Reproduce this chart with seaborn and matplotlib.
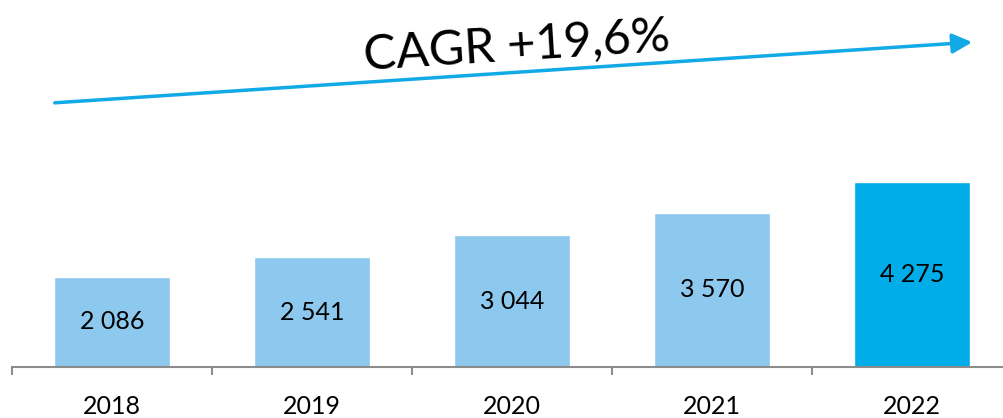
import matplotlib
matplotlib.use("Agg")
import matplotlib.pyplot as plt
import seaborn as sns
import pandas as pd

years = ["2018", "2019", "2020", "2021", "2022"]
values = [2086, 2541, 3044, 3570, 4275]
value_labels = ["2 086", "2 541", "3 044", "3 570", "4 275"]
cagr_text = "CAGR +19,6%"

sns.set_theme(style="white")
plt.rcParams['font.family'] = ['Lato', 'DejaVu Sans']

colors = ["#8DC8EE", "#8DC8EE", "#8DC8EE", "#8DC8EE", "#00ADE8"]
df = pd.DataFrame({"year": years, "value": values})

fig = plt.figure(figsize=(10.04, 4.18), dpi=100)
ax = fig.add_axes([12 / 1004, 51 / 418, 1000 / 1004, 367 / 418])
sns.barplot(data=df, x="year", y="value", hue="year", palette=colors,
            width=0.58, saturation=1, legend=False, ax=ax)

ax.set_xlim(-0.5, 4.5)
ax.set_ylim(0, 8481)
ax.set_xlabel("")
ax.set_ylabel("")
ax.set_yticks([])
for s in ["top", "right", "left"]:
    ax.spines[s].set_visible(False)
ax.spines["bottom"].set_color("#8C8C8C")
ax.spines["bottom"].set_linewidth(1.5)

ax.set_xticks([-0.5, 0.5, 1.5, 2.5, 3.5], minor=False)
ax.set_xticklabels([])
ax.tick_params(axis="x", which="major", direction="out", length=6, width=1.5,
               color="#8C8C8C", bottom=True)
ax.set_xticks(range(len(years)), minor=True)
ax.set_xticklabels(years, minor=True, fontsize=18, color="black")
ax.tick_params(axis="x", which="minor", length=0, pad=20)

for i, (v, lab) in enumerate(zip(values, value_labels)):
    ax.text(i, v / 2, lab, ha="center", va="center", fontsize=18, color="black")

fig.patches.append(matplotlib.patches.FancyArrowPatch(
    (52 / 1004, 1 - 103 / 418), (975 / 1004, 1 - 42 / 418),
    transform=fig.transFigure, arrowstyle="-|>,head_length=12,head_width=6",
    mutation_scale=1, color="#11A9E6", linewidth=2.5))

fig.text(517 / 1004, 1 - 46 / 418, cagr_text, ha="center", va="center",
         fontsize=35, rotation=3.6, color="black")

fig.savefig("out.png", dpi=100)
